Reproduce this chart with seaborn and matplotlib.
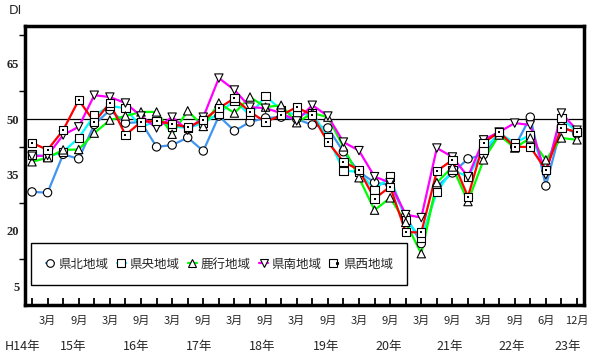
import numpy as np
import pandas as pd
import matplotlib
matplotlib.use("Agg")
import matplotlib.pyplot as plt
import matplotlib.transforms as mtransforms
from matplotlib.lines import Line2D
from matplotlib.legend_handler import HandlerTuple
import seaborn as sns

# ---------------- data ----------------
regions = ["県北地域", "県央地域", "鹿行地域", "県南地域", "県西地域"]

kenpoku = [30.4, 30.2, 40.5, 39.3, 48.5, 52.4, 48.9, 49.2, 42.5, 43.0, 45.0, 41.4,
           50.8, 46.8, 49.2, 50.3, 50.5, 50.0, 48.4, 47.6, 41.2, 35.8, 32.9, 32.3,
           24.0, 16.5, 31.8, 35.5, 39.3, 40.4, 45.7, 42.5, 50.5, 32.0, 48.0, 46.0]
kenou = [40.5, 39.8, 41.2, 44.9, 51.0, 53.5, 52.9, 47.8, 49.5, 48.0, 47.6, 48.9,
         51.5, 55.0, 51.0, 56.2, 52.4, 51.0, 51.5, 45.2, 36.1, 35.8, 31.0, 34.5,
         22.9, 18.0, 30.4, 36.3, 34.5, 41.7, 46.2, 43.6, 45.7, 36.3, 50.3, 46.5]
rokko = [38.5, 39.6, 41.7, 41.8, 46.2, 49.7, 50.8, 51.9, 51.9, 45.9, 52.2, 48.0,
         54.3, 51.6, 55.9, 53.2, 53.7, 49.0, 51.6, 50.5, 42.5, 34.2, 25.5, 28.8,
         22.2, 13.8, 32.9, 37.1, 27.8, 39.0, 45.7, 42.2, 44.9, 39.0, 44.9, 44.4]
kennan = [40.0, 40.2, 45.7, 47.9, 56.4, 55.9, 54.3, 50.8, 47.6, 50.5, 47.0, 50.5,
          61.0, 57.8, 53.2, 52.9, 51.6, 49.5, 53.7, 50.8, 43.8, 41.5, 34.5, 32.9,
          24.3, 23.5, 42.2, 39.8, 34.5, 44.4, 46.5, 48.9, 48.4, 35.0, 51.6, 47.0]
kensei = [43.6, 41.7, 47.0, 55.1, 49.2, 54.3, 45.7, 49.2, 49.5, 48.6, 47.8, 49.7,
          52.9, 55.6, 51.9, 49.2, 51.0, 53.2, 51.0, 43.8, 38.5, 36.3, 28.6, 31.8,
          19.6, 19.5, 36.0, 39.0, 29.1, 43.6, 46.5, 42.5, 42.5, 36.3, 47.6, 46.5]

month_labels = ["3月", "9月", "3月", "9月", "3月", "9月", "3月", "9月", "3月",
                "9月", "3月", "9月", "3月", "9月", "3月", "9月", "6月", "12月"]
year_labels = ["H14年", "15年", "16年", "17年", "18年", "19年", "20年", "21年", "22年", "23年"]
y_labels = ["5", "20", "35", "50", "65"]

# ---------------- styles / layout ----------------
colors = {"県北地域": "#3f95f0", "県央地域": "#00ffff", "鹿行地域": "#00ff00",
          "県南地域": "#ff00ff", "県西地域": "#ff0000"}
marker_map = {"県北地域": "o", "県央地域": "s", "鹿行地域": "^",
              "県南地域": "v", "県西地域": "s"}
year_pos = [-0.6, 2.65, 6.7, 10.7, 14.8, 18.9, 22.9, 26.8, 30.8, 34.4]

sns.set_theme(style="white")
plt.rcParams["font.family"] = ["Noto Sans CJK JP", "DejaVu Sans"]

series = [kenpoku, kenou, rokko, kennan, kensei]
n = len(kenpoku)
idx = np.arange(n)
df = pd.DataFrame({
    "t": np.tile(idx, len(regions)),
    "DI": np.concatenate(series),
    "region": np.repeat(regions, n),
})

fig = plt.figure(figsize=(5.94, 3.54), dpi=100)
ax = fig.add_axes([25 / 594, 1 - 305 / 354, 559 / 594, 279 / 354])

ax.axhline(50, color="black", lw=0.9, zorder=1)
sns.lineplot(data=df, x="t", y="DI", hue="region", hue_order=regions,
             palette=colors, lw=1.6, legend=False, ax=ax, zorder=2)
sns.scatterplot(data=df, x="t", y="DI", style="region", style_order=regions,
                markers=marker_map, color="white", edgecolor="black",
                linewidth=0.8, s=36, legend=False, ax=ax, zorder=3)
sub = df[df["region"] == "県西地域"]
sns.scatterplot(data=sub, x="t", y="DI", marker="s", color="black",
                edgecolor="black", linewidth=0, s=2, legend=False, ax=ax, zorder=4)

ax.set_xlim(-0.45, 35.45)
ax.set_ylim(0, 75)
ax.set_xlabel("")
ax.set_ylabel("")

ax.set_xticks(idx, minor=True)
ax.set_xticks(idx[1::2], labels=month_labels)
ax.tick_params(axis="x", which="both", direction="in", length=5, width=1.3,
               color="black", pad=8, labelsize=8, bottom=True)
ax.set_yticks([5, 20, 35, 50, 65], labels=y_labels)
ax.set_yticks([12.5, 27.5, 42.5, 57.5, 72.5], minor=True)
ax.tick_params(axis="y", which="major", length=0, pad=4, left=True)
ax.tick_params(axis="y", which="minor", direction="out", length=4, width=1,
               color="black", left=True)
for lab in ax.get_yticklabels():
    lab.set_fontfamily(["Liberation Serif"])
    lab.set_fontweight("bold")
    lab.set_fontsize(9)

for sp in ax.spines.values():
    sp.set_visible(True)
    sp.set_color("black")
    sp.set_linewidth(2.5)

trans = mtransforms.blended_transform_factory(ax.transData, ax.transAxes)
for p, lab in zip(year_pos, year_labels):
    ax.text(p, -0.15, lab, transform=trans, ha="center", va="center", fontsize=9)

fig.text(15 / 594, 1 - 11 / 354, "DI", ha="center", va="center", fontsize=9,
         family=["DejaVu Sans"])

handles = []
for r in regions:
    h = Line2D([], [], color=colors[r], lw=1.6, marker=marker_map[r],
               mfc="white", mec="black", mew=0.8, ms=5.5)
    if r == "県西地域":
        d = Line2D([], [], ls="none", marker="s", mfc="black", mec="black", ms=1.2)
        handles.append((h, d))
    else:
        handles.append(h)
leg = ax.legend(handles, regions, ncol=5, loc="lower left",
                bbox_to_anchor=(0.011, 0.072), borderaxespad=0, fontsize=9,
                handlelength=0.7, handletextpad=0.3, columnspacing=0.7,
                borderpad=1.15, frameon=True, fancybox=False, framealpha=1,
                edgecolor="black",
                handler_map={tuple: HandlerTuple(ndivide=None, pad=0)})
leg.get_frame().set_linewidth(1.0)

fig.savefig("out.png", dpi=100)
